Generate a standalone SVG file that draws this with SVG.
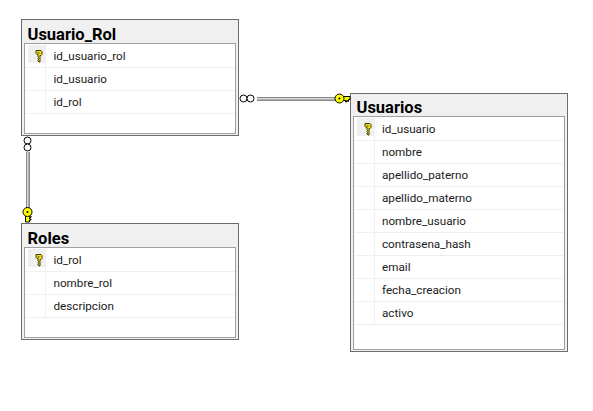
<svg xmlns="http://www.w3.org/2000/svg" xmlns:xlink="http://www.w3.org/1999/xlink" width="593" height="411" viewBox="0 0 593 411">
<style>
.outer{fill:#f0f0f0;stroke:#6d6d6d;stroke-width:1}
.inner{fill:#fff;stroke:#a0a0a0;stroke-width:1}
.sep{stroke:#f0f0f0;stroke-width:1;fill:none}
.keycell{fill:#f0f0f0}
.title{font-family:Roboto,"Open Sans",sans-serif;font-weight:700;font-size:16.500px;fill:#000}
.col{font-family:Roboto,"Noto Sans",sans-serif;font-size:11.700px;fill:#1a1a1a}
.lo{stroke:#8a8a8a;stroke-width:1;fill:none}
.li{stroke:#d8d8d8;stroke-width:1;fill:none}
.ring{fill:#fff;stroke:#000;stroke-width:1}
.kk{fill:#ffff00;stroke:#000;stroke-width:1}
</style>
<defs>
<g id="pk">
<path d="M-2.500,-5.500h5l1,1v3l-1,1h-1v6.500h-1l-1,-1v-1l.5,-.5l-.5,-.5v-1l.5,-.5l-.5,-.5v-2.500h-1l-1,-1v-3z" fill="#f0e020" stroke="#3c3c00" stroke-width="1"/>
<rect x="-1" y="-3.500" width="2" height="1" fill="#3c3c00"/>
</g>
</defs>
<g id="usuario-rol">
<rect class="outer" x="21.500" y="19.500" width="217" height="116"/>
<rect class="inner" x="24.500" y="43.500" width="211" height="90"/>
<rect class="keycell" x="28" y="45" width="17" height="18"/>
<path class="sep" d="M25,67.500H235M25,90.500H235M25,113.500H235M45.500,44V113"/>
<text class="title" x="27.500" y="40">Usuario_Rol</text>
<use xlink:href="#pk" href="#pk" x="38.500" y="56"/>
<text class="col" x="53.500" y="60">id_usuario_rol</text>
<text class="col" x="53.500" y="83">id_usuario</text>
<text class="col" x="53.500" y="106">id_rol</text>
</g>
<g id="roles">
<rect class="outer" x="21.500" y="223.500" width="217" height="116"/>
<rect class="inner" x="24.500" y="247.500" width="211" height="90"/>
<rect class="keycell" x="28" y="249" width="17" height="18"/>
<path class="sep" d="M25,271.500H235M25,294.500H235M25,317.500H235M45.500,248V317"/>
<text class="title" x="27.500" y="244">Roles</text>
<use xlink:href="#pk" href="#pk" x="38.500" y="260"/>
<text class="col" x="53.500" y="264">id_rol</text>
<text class="col" x="53.500" y="287">nombre_rol</text>
<text class="col" x="53.500" y="310">descripcion</text>
</g>
<g id="usuarios">
<rect class="outer" x="350.500" y="93.500" width="217" height="258"/>
<rect class="inner" x="353.500" y="116.500" width="211" height="233"/>
<rect class="keycell" x="357" y="118" width="17" height="18"/>
<path class="sep" d="M354,140.500H564M354,163.500H564M354,186.500H564M354,209.500H564M354,232.500H564M354,255.500H564M354,278.500H564M354,301.500H564M354,324.500H564M374.500,117V324"/>
<text class="title" x="356.500" y="113">Usuarios</text>
<use xlink:href="#pk" href="#pk" x="367.500" y="129"/>
<text class="col" x="382" y="133">id_usuario</text>
<text class="col" x="382" y="156">nombre</text>
<text class="col" x="382" y="179">apellido_paterno</text>
<text class="col" x="382" y="202">apellido_materno</text>
<text class="col" x="382" y="225">nombre_usuario</text>
<text class="col" x="382" y="248">contrasena_hash</text>
<text class="col" x="382" y="271">email</text>
<text class="col" x="382" y="294">fecha_creacion</text>
<text class="col" x="382" y="317">activo</text>
</g>
<g id="connectors">
<path class="lo" d="M257,97.500H336M257,100.500H336"/>
<path class="li" d="M257,98.500H336"/><path d="M257,99.500H336" stroke="#b0b0b0" fill="none"/>
<circle class="ring" cx="243.500" cy="98.500" r="3.500"/><circle class="ring" cx="250.500" cy="98.500" r="3.500"/>
<path class="kk" d="M342,96.500h8v3h-1.500v2h-1v-1h-1v1.500h-1v-1.500h-3.500z"/>
<circle class="kk" cx="339.500" cy="98.500" r="4.500" stroke-width="1.200"/>
<circle cx="339.500" cy="98.500" r="1" fill="#000"/>
<path class="lo" d="M26.500,152V208M29.500,152V208"/>
<path class="li" d="M27.500,152V208"/><path d="M28.500,152V208" stroke="#b0b0b0" fill="none"/>
<circle class="ring" cx="27.500" cy="140.500" r="3.500"/><circle class="ring" cx="27.500" cy="147.500" r="3.500"/>
<path class="kk" d="M25.500,214h3v2h2.500v1.500h-1.500v1.500h1.500v1h-1.500v2h-4z"/>
<circle class="kk" cx="27.500" cy="212" r="4.500" stroke-width="1.200"/>
<circle cx="27.500" cy="212" r="1" fill="#000"/>
</g>
</svg>
